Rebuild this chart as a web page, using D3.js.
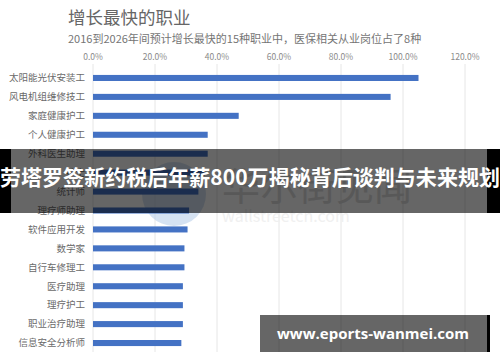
<!DOCTYPE html>
<html>
<head>
<meta charset="utf-8">
<script src="https://cdn.jsdelivr.net/npm/d3@7"></script>
<style>
  body { margin: 0; background: #fff; }
  svg { display: block; font-family: "Noto Sans CJK SC", "Noto Sans", sans-serif; }
</style>
</head>
<body>
<svg id="chart" width="500" height="362"></svg>
<script>
// jobs, top to bottom
var jobs = ['太阳能光伏安装工', '风电机组维修技工', '家庭健康护工', '个人健康护工', '外科医生助理',
    '护士', '统计师', '理疗师助理', '软件应用开发', '数学家', '自行车修理工',
    '医疗助理', '理疗护工', '职业治疗助理', '信息安全分析师'];
// growth in percent
var growth = [105, 96, 47, 37, 37, 36, 34, 31, 30.5, 29.5, 29.5, 29, 29, 29, 28.5];
var ticks = [0, 20, 40, 60, 80, 100, 120];

var svg = d3.select('#chart');

var x = d3.scaleLinear().domain([0, 120]).range([93, 465]);
var y = d3.scaleBand().domain(jobs).range([68.5, 352.5]).paddingInner(0.68).paddingOuter(0.34);

// title + subtitle
svg.append('text').attr('x', 68).attr('y', 24)
    .style('font-size', '17.5px').style('fill', '#666')
    .text('增长最快的职业');
svg.append('text').attr('x', 68).attr('y', 43)
    .style('font-size', '11px').style('fill', '#757575')
    .text('2016到2026年间预计增长最快的15种职业中，医保相关从业岗位占了8种');

// grid
svg.append('g').selectAll('line').data(ticks).enter()
    .append('line')
    .attr('x1', function(d) { return x(d); }).attr('x2', function(d) { return x(d); })
    .attr('y1', 64).attr('y2', 352)
    .style('stroke', '#e6e6e6').style('stroke-width', 1);

svg.append('g').selectAll('text').data(ticks).enter()
    .append('text')
    .attr('x', function(d) { return x(d); }).attr('y', 60)
    .attr('text-anchor', 'middle')
    .style('font-size', '8.5px').style('fill', '#8a8a8a')
    .text(function(d) { return d.toFixed(1) + '%'; });

// watermark circle (sits behind bars)
svg.append('circle').attr('cx', 174).attr('cy', 194).attr('r', 32)
    .style('fill', '#b9cfea').style('opacity', 0.6);

// bars
svg.append('g').selectAll('rect').data(growth).enter()
    .append('rect')
    .attr('x', x(0))
    .attr('y', function(d, i) { return y(jobs[i]); })
    .attr('width', function(d) { return x(d) - x(0); })
    .attr('height', y.bandwidth())
    .style('fill', '#4472c4');

// category labels
svg.append('g').selectAll('text').data(jobs).enter()
    .append('text')
    .attr('x', 85)
    .attr('y', function(d) { return y(d) + y.bandwidth() / 2; })
    .attr('dy', '0.35em')
    .attr('text-anchor', 'end')
    .style('font-size', '9.5px').style('fill', '#6a6a6a')
    .text(function(d) { return d; });

// faint watermark text
svg.append('text').attr('x', 222).attr('y', 200)
    .style('font-size', '38px').style('fill', '#dcdcdc')
    .text('华尔街见闻');
svg.append('text').attr('x', 222).attr('y', 222)
    .style('font-size', '16px').style('fill', '#f0f0f0')
    .text('wallstreetcn.com');

// dark banner across the middle
svg.append('rect').attr('x', 0).attr('y', 149).attr('width', 500).attr('height', 64)
    .style('fill', '#000').style('opacity', 0.6);
svg.append('rect').attr('x', 0).attr('y', 149).attr('width', 11).attr('height', 64)
    .style('fill', '#000');
svg.append('rect').attr('x', 487).attr('y', 149).attr('width', 13).attr('height', 64)
    .style('fill', '#000');
svg.append('text').attr('x', 0).attr('y', 185)
    .attr('textLength', 500).attr('lengthAdjust', 'spacingAndGlyphs')
    .style('font-size', '21px').style('font-weight', 'bold').style('fill', '#fff')
    .text('劳塔罗签新约税后年薪800万揭秘背后谈判与未来规划');

// url box bottom right
svg.append('rect').attr('x', 260).attr('y', 315).attr('width', 227).attr('height', 37)
    .style('fill', '#000').style('opacity', 0.6);
svg.append('rect').attr('x', 487).attr('y', 315).attr('width', 3).attr('height', 37)
    .style('fill', '#000');
svg.append('text').attr('x', 373).attr('y', 339)
    .attr('text-anchor', 'middle')
    .style('font-size', '15px').style('font-weight', 'bold').style('fill', '#fff')
    .style('font-family', '"Open Sans", "DejaVu Sans", sans-serif')
    .text('www.eports-wanmei.com');
</script>
</body>
</html>
